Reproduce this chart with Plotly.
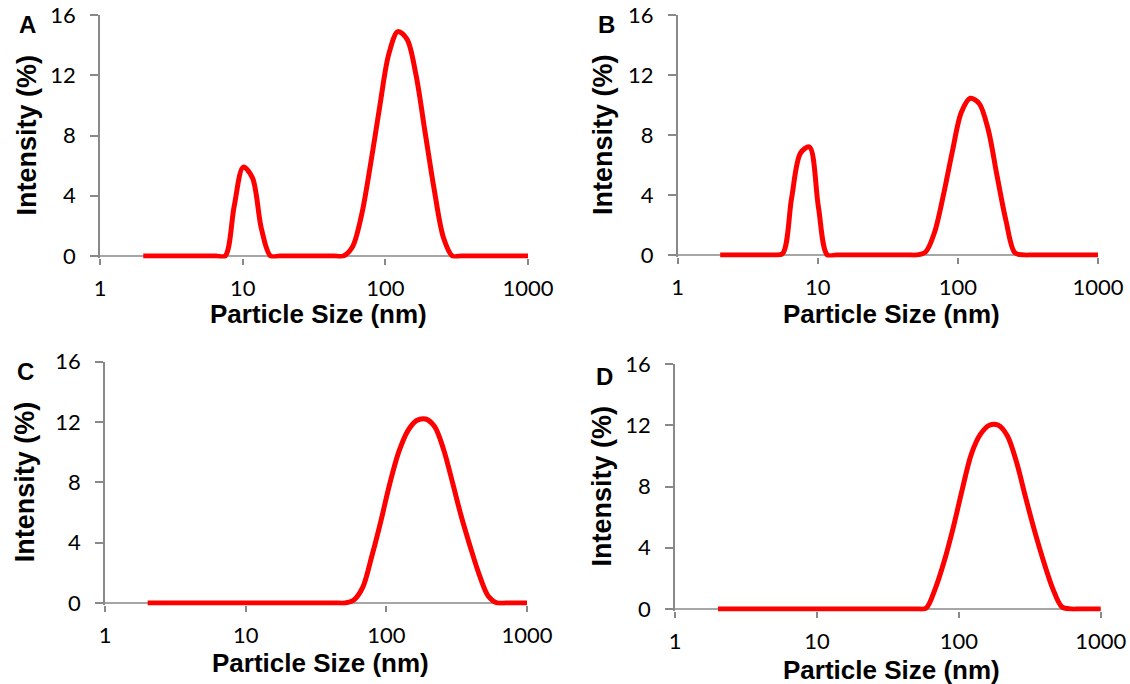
import plotly.graph_objects as go

# Hydrodynamic diameter bins (nm) shared by all four measurements
sizes_nm = [2.010, 2.328, 2.696, 3.122, 3.615, 4.187, 4.849, 5.615, 6.503, 7.531,
            8.721, 10.10, 11.70, 13.54, 15.69, 18.17, 21.04, 24.36, 28.21, 32.67,
            37.84, 43.82, 50.75, 58.77, 68.06, 78.82, 91.28, 105.7, 122.4, 141.8,
            164.2, 190.1, 220.2, 255.0, 295.3, 342.0, 396.1, 458.7, 531.2, 615.1,
            712.4, 825.0, 955.4, 1106]

# Intensity distributions (%)
intensity_a = [0, 0, 0, 0, 0, 0, 0, 0, 0, 0,
               3.3, 5.9, 5.2, 1.8, 0, 0, 0, 0, 0, 0,
               0, 0, 0, 0.6, 2.7, 6.1, 9.9, 13.4, 14.9, 14.4,
               12.0, 8.2, 4.4, 1.25, 0, 0, 0, 0, 0, 0,
               0, 0, 0, 0]
intensity_b = [0, 0, 0, 0, 0, 0, 0, 0.1, 3.8, 6.8,
               7.2, 3.2, 0, 0, 0, 0, 0, 0, 0, 0,
               0, 0, 0, 0.2, 1.5, 4.0, 6.9, 9.5, 10.45, 10.1,
               8.4, 5.3, 2.3, 0.15, 0, 0, 0, 0, 0, 0,
               0, 0, 0, 0]
intensity_c = [0, 0, 0, 0, 0, 0, 0, 0, 0, 0,
               0, 0, 0, 0, 0, 0, 0, 0, 0, 0,
               0, 0, 0, 0.2, 1.05, 3.1, 5.4, 7.9, 10.0, 11.4,
               12.1, 12.2, 11.7, 10.2, 8.0, 5.7, 3.7, 1.85, 0.45, 0,
               0, 0, 0, 0]
intensity_d = [0, 0, 0, 0, 0, 0, 0, 0, 0, 0,
               0, 0, 0, 0, 0, 0, 0, 0, 0, 0,
               0, 0, 0, 0.05, 1.3, 3.1, 5.3, 7.8, 10.1, 11.4,
               12.0, 12.0, 11.3, 9.6, 7.3, 5.1, 3.1, 1.35, 0.15, 0,
               0, 0, 0, 0]

panel_letters = ["A", "B", "C", "D"]
x_tick_vals = [1, 10, 100, 1000]
x_tick_text = ["1", "10", "100", "1000"]
y_tick_vals = [0, 4, 8, 12, 16]
x_title = "Particle Size (nm)"
y_title = "Intensity (%)"

W, H = 1130, 684
Y_MIN, Y_MAX = -0.16, 16

# Plot-area rectangles in pixels: left, right, pixel row of 0 %, pixel row of 16 %
rects = [
    (100, 528, 256, 15),
    (677.7, 1098, 255, 15),
    (105, 527, 603, 361.7),
    (675, 1100.7, 609, 364),
]
# Positions of the panel letters and axis titles (pixels)
letter_pos = [(27, 24), (606, 24), (25, 371), (604, 376)]
ytitle_x = [27, 603, 25, 601]
xtitle_y = [314, 314, 663, 670]

AXIS_GRAY = "#898989"
TICK_FONT = dict(family="Lato, Calibri, sans-serif", size=22, color="#000000")
XTITLE_FONT = dict(family="Liberation Sans, Arial, sans-serif", size=26, color="#000000")
YTITLE_FONT = dict(family="Liberation Sans, Arial, sans-serif", size=27, color="#000000")

series = [intensity_a, intensity_b, intensity_c, intensity_d]

fig = go.Figure()
annotations = []
shapes = []
layout_axes = {}

for i, (vals, rect) in enumerate(zip(series, rects)):
    n = "" if i == 0 else str(i + 1)
    left, right, y0px, ytop = rect
    per_unit = (y0px - ytop) / 16.0
    bottom_px = y0px - Y_MIN * per_unit
    xdom = [left / W, right / W]
    ydom = [1 - bottom_px / H, 1 - ytop / H]

    fig.add_trace(go.Scatter(
        x=sizes_nm, y=vals, mode="lines",
        line=dict(color="#FF0000", width=5, shape="spline", smoothing=0.9),
        xaxis="x" + n, yaxis="y" + n, showlegend=False, hoverinfo="skip",
    ))

    layout_axes["xaxis" + n] = dict(
        domain=xdom, anchor="y" + n, type="log", range=[0, 3],
        tickvals=x_tick_vals, ticktext=x_tick_text,
        ticks="outside", ticklen=6, tickwidth=1.5, tickcolor=AXIS_GRAY,
        ticklabelstandoff=4, automargin=False,
        showline=False, showgrid=False, zeroline=False,
        tickfont=TICK_FONT, fixedrange=True,
    )
    layout_axes["yaxis" + n] = dict(
        domain=ydom, anchor="x" + n, range=[Y_MIN, Y_MAX],
        tickvals=y_tick_vals,
        ticks="outside", ticklen=8, tickwidth=1.5, tickcolor=AXIS_GRAY,
        ticklabelstandoff=10, automargin=False,
        showline=True, linecolor=AXIS_GRAY, linewidth=1.5,
        showgrid=False, zeroline=False,
        tickfont=TICK_FONT, fixedrange=True,
    )

    # x-axis baseline at 0 %
    shapes.append(dict(
        type="line", xref="x" + n + " domain", x0=0, x1=1,
        yref="y" + n, y0=0, y1=0,
        line=dict(color=AXIS_GRAY, width=1.5), layer="below",
    ))

    mid_y_px = (y0px + ytop) / 2
    annotations.append(dict(
        text="<b>" + y_title + "</b>", textangle=-90,
        xref="paper", yref="paper",
        x=ytitle_x[i] / W, y=1 - mid_y_px / H,
        xanchor="center", yanchor="middle", showarrow=False, font=YTITLE_FONT,
    ))
    annotations.append(dict(
        text="<b>" + x_title + "</b>",
        xref="paper", yref="paper",
        x=((left + right) / 2 + 4) / W, y=1 - xtitle_y[i] / H,
        xanchor="center", yanchor="middle", showarrow=False, font=XTITLE_FONT,
    ))
    lx, ly = letter_pos[i]
    annotations.append(dict(
        text="<b>" + panel_letters[i] + "</b>",
        xref="paper", yref="paper", x=lx / W, y=1 - ly / H,
        xanchor="center", yanchor="middle", showarrow=False,
        font=dict(family="Liberation Sans, Arial, sans-serif", size=24, color="#000000"),
    ))

fig.update_layout(
    width=W, height=H,
    margin=dict(l=0, r=0, t=0, b=0, autoexpand=False),
    paper_bgcolor="#FFFFFF", plot_bgcolor="#FFFFFF",
    annotations=annotations, shapes=shapes,
    **layout_axes,
)

fig.write_html("out.html", config={"displayModeBar": False})
